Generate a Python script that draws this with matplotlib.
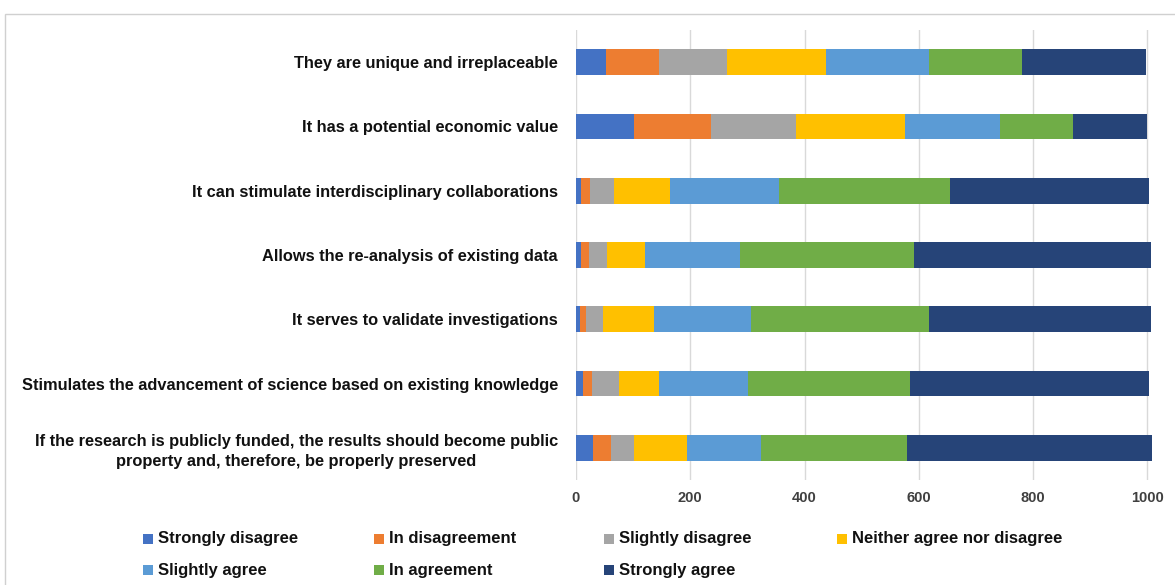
import numpy as np
import matplotlib
matplotlib.use("Agg")
import matplotlib.pyplot as plt
from matplotlib.patches import Rectangle

plt.rcParams['font.family'] = ['Liberation Sans', 'DejaVu Sans']

# statements, top to bottom
statements = [
    "They are unique and irreplaceable",
    "It has a potential economic value",
    "It can stimulate interdisciplinary collaborations",
    "Allows the re-analysis of existing data",
    "It serves to validate investigations",
    "Stimulates the advancement of science based on existing knowledge",
    "If the research is publicly funded, the results should become public\nproperty and, therefore, be properly preserved",
]

categories = ["Strongly disagree", "In disagreement", "Slightly disagree",
              "Neither agree nor disagree", "Slightly agree", "In agreement",
              "Strongly agree"]

strongly_disagree = [52, 101, 8, 8, 7, 13, 30]
in_disagreement = [93, 136, 17, 14, 10, 15, 32]
slightly_disagree = [120, 148, 42, 33, 30, 47, 40]
neither = [172, 191, 97, 65, 90, 71, 92]
slightly_agree = [181, 166, 191, 167, 169, 155, 130]
in_agreement = [163, 128, 300, 304, 311, 284, 256]
strongly_agree = [217, 130, 348, 415, 389, 418, 430]

series = [strongly_disagree, in_disagreement, slightly_disagree, neither,
          slightly_agree, in_agreement, strongly_agree]
colors = ["#4472C4", "#ED7D31", "#A5A5A5", "#FFC000",
          "#5B9BD5", "#70AD47", "#264478"]

W, H = 1175, 585
fig = plt.figure(figsize=(W / 100, H / 100), dpi=100)
ax = fig.add_axes([576 / W, 1 - 480 / H, (1152 - 576) / W, 450 / H])

y = np.arange(len(statements))
left = np.zeros(len(statements))
for vals, col, name in zip(series, colors, categories):
    ax.barh(y, vals, left=left, height=0.4, color=col, label=name, zorder=3)
    left += np.array(vals)

ax.set_ylim(len(statements) - 0.5, -0.5)
ax.set_xlim(0, 1008)
ax.set_xticks(np.arange(0, 1001, 200))
ax.set_yticks(y)
ax.set_yticklabels(statements, fontsize=11.8, fontweight='bold', color='#111111',
                   multialignment='center', linespacing=1.35)
ax.tick_params(axis='x', labelsize=10.5, colors='#404040', length=0, pad=8)
ax.tick_params(axis='y', length=0, pad=13)
for lab in ax.get_xticklabels():
    lab.set_fontweight('bold')
ax.grid(axis='x', color='#D9D9D9', linewidth=1, zorder=0)
for s in ax.spines.values():
    s.set_visible(False)

# legend laid out in rows like the original (4 per row)
col_x = [143, 374, 604, 837]
row_y = [539, 570]
for i, (name, col) in enumerate(zip(categories, colors)):
    px = col_x[i % 4]
    py = row_y[i // 4]
    fig.patches.append(Rectangle((px / W, 1 - (py + 5) / H), 10 / W, 10 / H,
                                 transform=fig.transFigure, facecolor=col,
                                 edgecolor='none'))
    fig.text((px + 15) / W, 1 - py / H, name, fontsize=12, fontweight='bold',
             color='#111111', va='center', ha='left')

# outer chart border
fig.patches.append(Rectangle((5 / W, -0.02), 1.1, 1 - 14 / H + 0.02,
                             transform=fig.transFigure, fill=False,
                             edgecolor='#D0D0D0', linewidth=1))

fig.savefig("out.png", dpi=100)
